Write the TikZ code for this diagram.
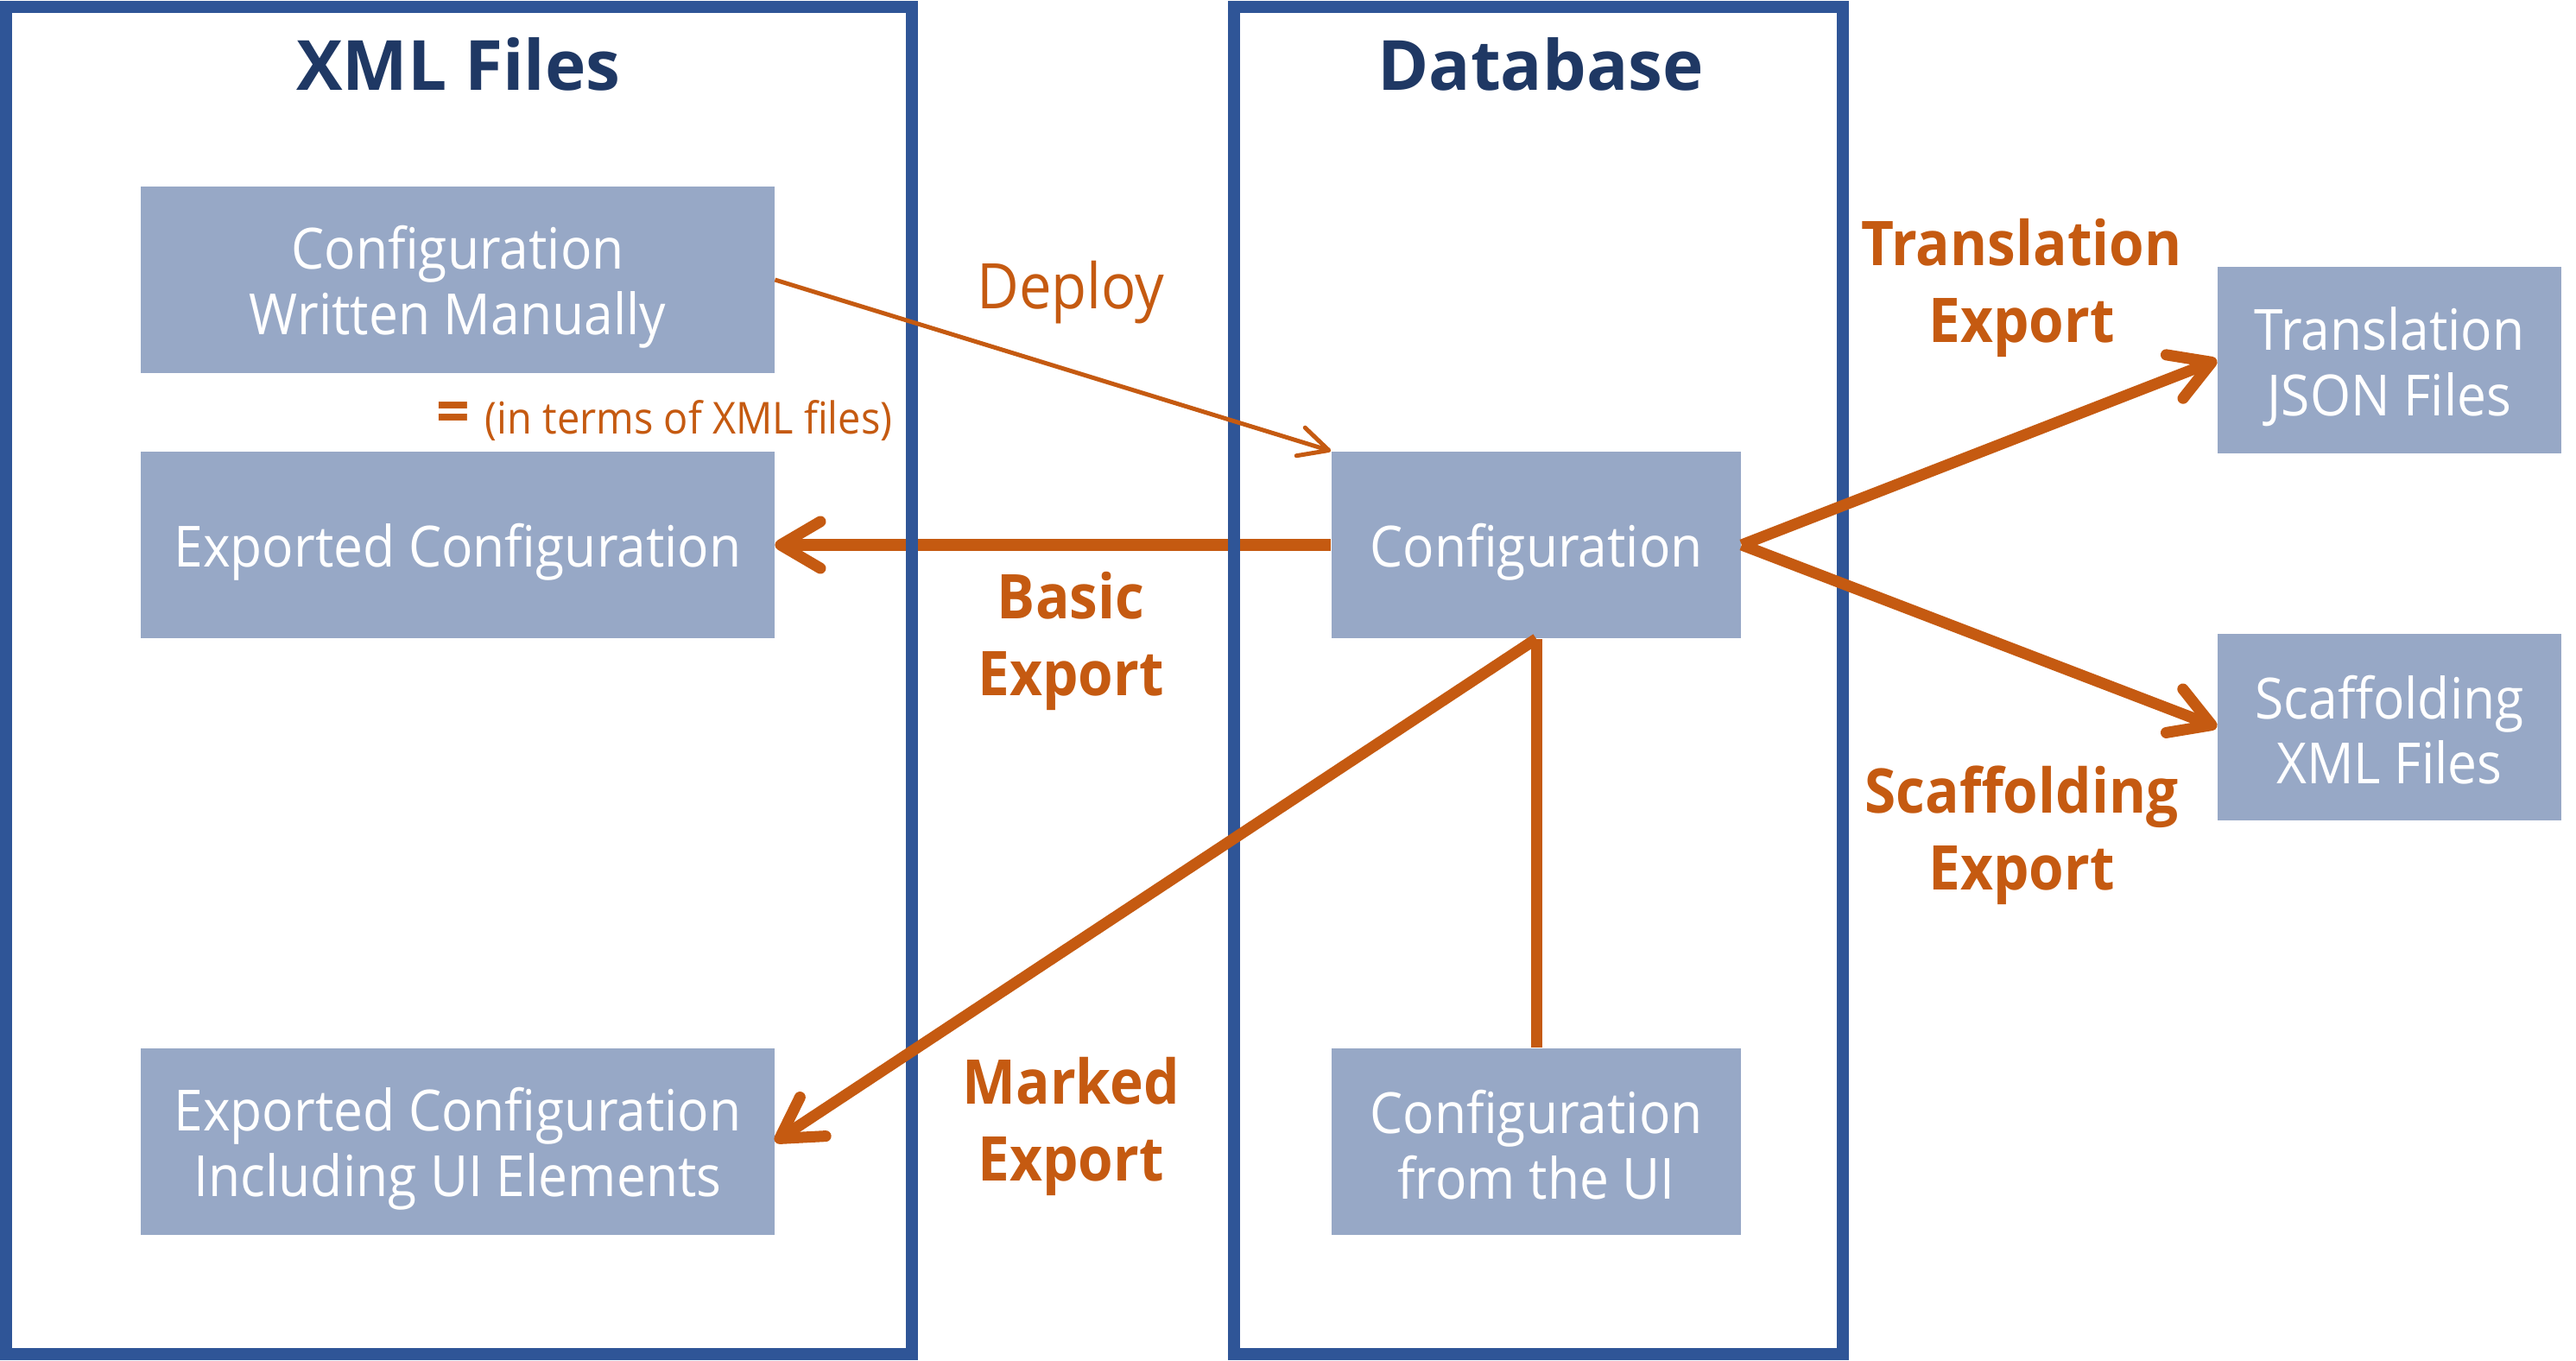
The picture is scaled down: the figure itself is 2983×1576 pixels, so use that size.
\documentclass[tikz,border=0pt]{standalone}
\usepackage{fontspec}
\setmainfont{Open Sans}[FakeStretch=0.92]
\newfontfamily\titlefont{Open Sans}
\usetikzlibrary{arrows.meta}
\definecolor{boxblue}{RGB}{151,168,198}
\definecolor{frameblue}{RGB}{47,85,151}
\definecolor{titleblue}{RGB}{31,56,100}
\definecolor{accent}{RGB}{197,90,17}
\newcommand\boxstrut{\rule{0pt}{0.66cm}}
\newcommand\boxdepth{\rule[-0.1cm]{0pt}{0pt}}
\begin{document}
\begin{tikzpicture}[x=0.01cm,y=-0.01cm,
  box/.style={fill=boxblue,text=white,align=center,inner sep=0pt,
    font=\fontsize{18.7}{21.6}\selectfont},
  widebox/.style={box,minimum width=7.33cm,minimum height=2.16cm},
  midbox/.style={box,minimum width=4.74cm,minimum height=2.16cm},
  sidebox/.style={box,minimum width=3.98cm,minimum height=2.16cm},
  container/.style={draw=frameblue,line width=0.14cm,inner sep=0pt,minimum height=15.6cm},
  title/.style={text=titleblue,anchor=base,inner sep=0pt,font=\titlefont\bfseries\fontsize{22.8}{22.8}\selectfont},
  lbl/.style={text=accent,align=center,inner sep=0pt,font=\bfseries\fontsize{20.3}{25.3}\selectfont},
  thickarrow/.style={draw=accent,line width=0.13cm,-{Straight Barb[length=0.46cm,width=0.54cm,round]}},
  thinarrow/.style={draw=accent,line width=0.05cm,-{Straight Barb[length=0.34cm,width=0.34cm,round]}},
  thickline/.style={draw=accent,line width=0.13cm}]
\useasboundingbox (0,0) rectangle (2983,1576);
% boxes
\node[widebox] (b1) at (530,324) {\boxstrut Configuration\\Written Manually\boxdepth};
\node[widebox] (b2) at (530,631) {\boxstrut Exported Configuration};
\node[widebox] (b3) at (530,1322) {\boxstrut Exported Configuration\\Including UI Elements\boxdepth};
\node[midbox] (cfg) at (1779,631) {\boxstrut Configuration};
\node[midbox] (cui) at (1779,1322) {\boxstrut Configuration\\from the UI\boxdepth};
\node[sidebox] (tj) at (2767,417) {\boxstrut Translation\\JSON Files\boxdepth};
\node[sidebox] (sx) at (2767,842) {\boxstrut Scaffolding\\XML Files\boxdepth};
% basic export (under the frames)
\draw[thickarrow] (cfg.west) -- (b2.east);
% containers
\node[container,minimum width=10.49cm] (xmlc) at (531.5,788) {};
\node[container,minimum width=7.05cm] (dbc) at (1781.5,788) {};
\node[title] (xmlt) at (531,105) {XML Files};
\node[title] (dbt) at (1784,105) {Database};
% other connectors
\draw[thinarrow] (b1.east) -- (cfg.north west);
\draw[thickline] (cui.north) -- (cfg.south);
\draw[thickarrow] (cfg.south) -- (b3.east);
\draw[thickarrow] (cfg.east) -- (tj.west);
\draw[thickarrow] (cfg.east) -- (sx.west);
% labels
\node[text=accent,anchor=base,inner sep=0pt,font=\fontsize{20.7}{20.7}\selectfont] (deploy) at (1240,357) {Deploy};
\node[lbl] (basic) at (1240,742) {Basic\\Export};
\node[lbl] (marked) at (1240,1304) {Marked\\Export};
\node[lbl] (transl) at (2341,333) {Translation\\Export};
\node[lbl] (scaff) at (2341,967) {Scaffolding\\Export};
\node[text=accent,anchor=base east,inner sep=0pt,font=\fontsize{14.5}{14.5}\selectfont] (note) at (1034,502)
  {{\bfseries\fontsize{21}{21}\selectfont =}\hspace{0.35em}(in terms of XML files)};
\end{tikzpicture}
\end{document}
